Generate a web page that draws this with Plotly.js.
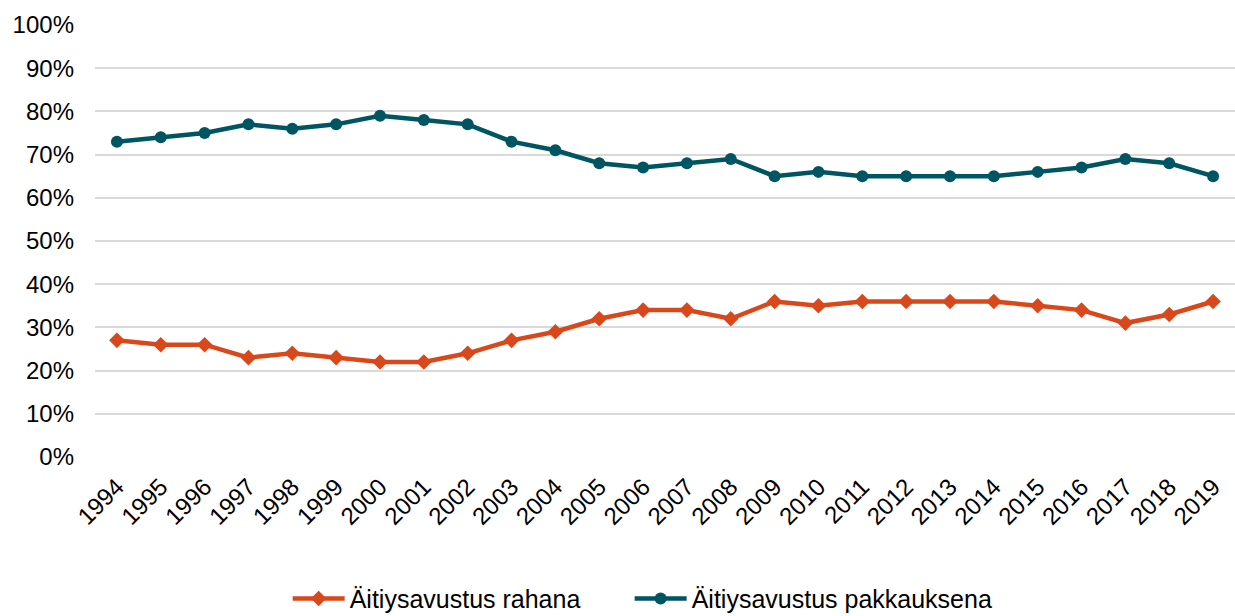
<!DOCTYPE html>
<html>
<head>
<meta charset="utf-8">
<script src="https://cdn.plot.ly/plotly-3.0.1.min.js"></script>
<style>html,body{margin:0;padding:0;background:#fff;}#chart{width:1235px;height:616px;}</style>
</head>
<body>
<div id="chart"></div>
<script>
const years = ["1994","1995","1996","1997","1998","1999","2000","2001","2002","2003","2004","2005","2006","2007","2008","2009","2010","2011","2012","2013","2014","2015","2016","2017","2018","2019"];
const rahana = [27,26,26,23,24,23,22,22,24,27,29,32,34,34,32,36,35,36,36,36,36,35,34,31,33,36];
const pakkauksena = [73,74,75,77,76,77,79,78,77,73,71,68,67,68,69,65,66,65,65,65,65,66,67,69,68,65];
const seriesNames = ["Äitiysavustus rahana","Äitiysavustus pakkauksena"];

const fontFam = '"Liberation Sans", Arial, sans-serif';

const traces = [
  {x: years, y: rahana.map(v => v/100), name: seriesNames[0], type: 'scatter', mode: 'lines+markers',
   legend: 'legend',
   line: {color: '#D9481A', width: 4.5}, marker: {symbol: 'diamond', size: 12, color: '#D9481A'}},
  {x: years, y: pakkauksena.map(v => v/100), name: seriesNames[1], type: 'scatter', mode: 'lines+markers',
   legend: 'legend2',
   line: {color: '#005562', width: 4.5}, marker: {symbol: 'circle', size: 12, color: '#005562'}}
];

const legendBase = {orientation: 'h', xanchor: 'left', yref: 'container', y: 0.028, yanchor: 'middle',
                    itemwidth: 52, font: {family: fontFam, size: 25, color: '#000'}};

const layout = {
  width: 1235, height: 616,
  margin: {l: 95, r: 0, t: 25, b: 159},
  paper_bgcolor: '#fff', plot_bgcolor: '#fff',
  font: {family: fontFam, size: 24, color: '#000'},
  xaxis: {type: 'category', range: [-0.5, 25.5], tickangle: -45, showgrid: false, zeroline: false, showline: false,
          ticks: '', ticklabelstandoff: 10, tickfont: {family: fontFam, size: 24, color: '#000'}},
  yaxis: {range: [0, 1], tickformat: '.0%', dtick: 0.1, gridcolor: '#d9d9d9', gridwidth: 2,
          zeroline: false, showline: false, ticks: '', ticklabelstandoff: 20,
          tickfont: {family: fontFam, size: 24, color: '#000'}},
  legend: Object.assign({}, legendBase, {x: 0.169}),
  legend2: Object.assign({}, legendBase, {x: 0.469}),
  showlegend: true
};

Plotly.newPlot('chart', traces, layout, {displayModeBar: false, staticPlot: true});
</script>
</body>
</html>
